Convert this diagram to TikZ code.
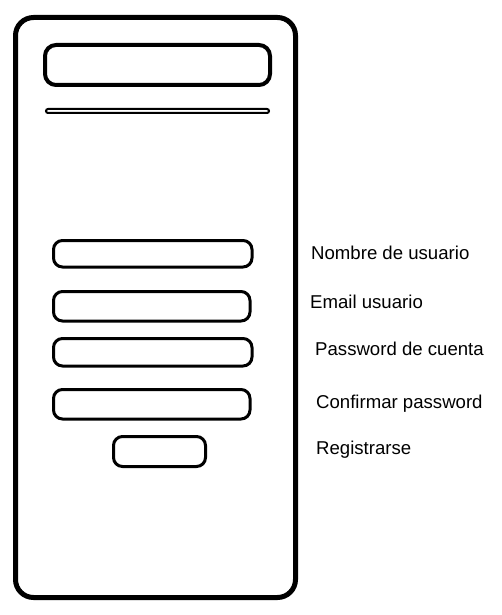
\documentclass[tikz,border=0pt]{standalone}
\usepackage{fontspec}
\setmainfont{Liberation Sans}
\begin{document}
\begin{tikzpicture}[x=1pt,y=-1pt,
  frame/.style={draw=black,line width=5pt,rounded corners=18pt},
  header/.style={draw=black,line width=4pt,rounded corners=11pt},
  bar/.style={draw=black,line width=2pt,rounded corners=2pt},
  field/.style={draw=black,line width=3pt,rounded corners=9pt},
  lbl/.style={anchor=west,inner sep=0pt,font=\fontsize{18.6}{20}\selectfont}]
\useasboundingbox[fill=white] (0,0) rectangle (501,615);
\draw[frame] (15.5,17.5) rectangle (295.5,597.5);
\draw[header] (45,45) rectangle (270,85);
\draw[bar] (46,109) rectangle (269,113);
\draw[field] (53.5,240.5) rectangle (252,267);
\draw[field] (53.5,291.5) rectangle (250,321);
\draw[field] (53.5,338.5) rectangle (252,366);
\draw[field] (53.5,389.5) rectangle (250,419);
\draw[field] (113.5,436.5) rectangle (205.5,466.5);
\node[lbl] (n1) at (311,253) {Nombre de usuario};
\node[lbl] (n2) at (310,301.5) {Email usuario};
\node[lbl] (n3) at (315,348.5) {Password de cuenta};
\node[lbl] (n4) at (316,403.5) {Confirmar password};
\node[lbl] (n5) at (316,450) {Registrarse};
\end{tikzpicture}
\end{document}
